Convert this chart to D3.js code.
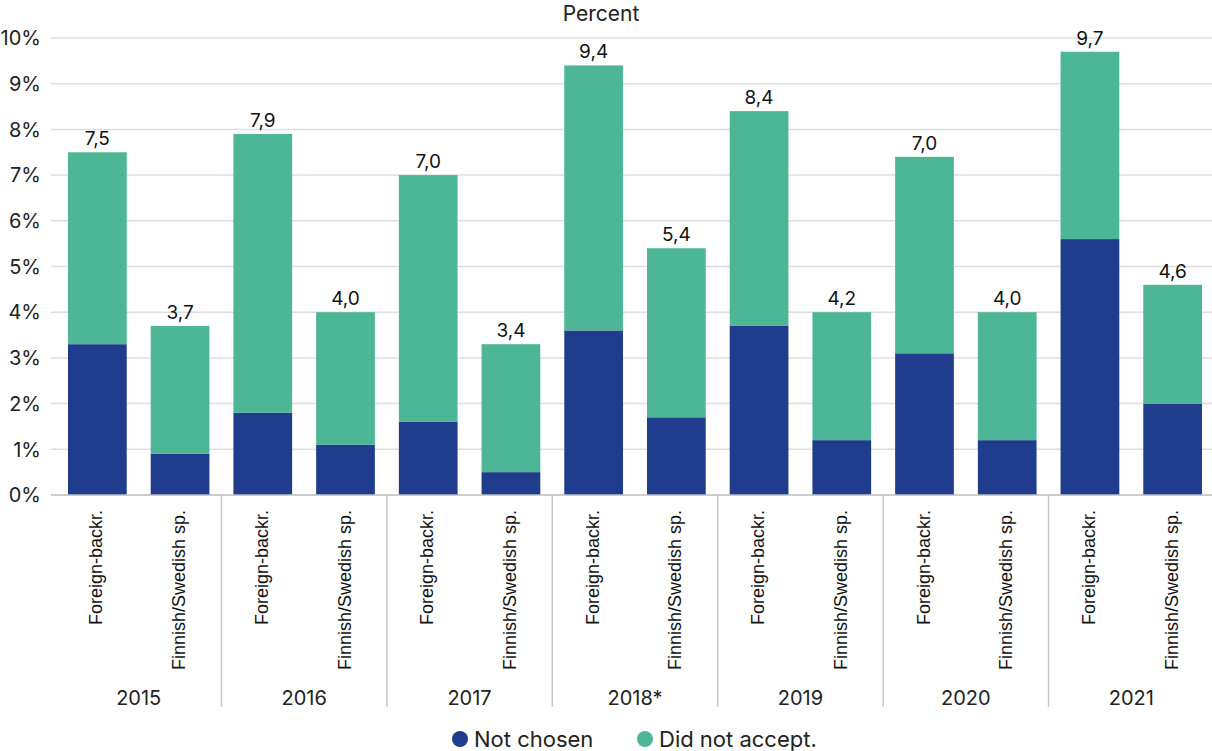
<!DOCTYPE html>
<html><head><meta charset="utf-8">
<script src="https://cdn.jsdelivr.net/npm/d3@7"></script>
<style>body{margin:0;background:#fff}svg{display:block}</style>
</head><body>
<svg id="c" width="1212" height="751"></svg>
<script>
const years = ["2015","2016","2017","2018*","2019","2020","2021"];
const groups = ["Foreign-backr.","Finnish/Swedish sp."];
// Not chosen (dark) per bar, ordered year by year: foreign, finnish
const notChosen = [3.3,0.9, 1.8,1.1, 1.6,0.5, 3.6,1.7, 3.7,1.2, 3.1,1.2, 5.6,2.0];
// Bar total height as drawn
const totals = [7.5,3.7, 7.9,4.0, 7.0,3.3, 9.4,5.4, 8.4,4.0, 7.4,4.0, 9.7,4.6];
// Printed labels above bars
const valueLabels = ["7,5","3,7","7,9","4,0","7,0","3,4","9,4","5,4","8,4","4,2","7,0","4,0","9,7","4,6"];
const yTicks = [0,1,2,3,4,5,6,7,8,9,10];
const seriesNames = ["Not chosen","Did not accept."];
const colors = ["#203C8C","#4DB696"];

const bars = [];
years.forEach((y,i)=>groups.forEach((g,j)=>{
  const k=i*2+j;
  bars.push({key:y+"|"+g, year:y, group:g, nc:notChosen[k], dna:+(totals[k]-notChosen[k]).toFixed(2), label:valueLabels[k]});
}));

const F = "Inter, Roboto, sans-serif";
const svg = d3.select("#c");
const y = d3.scaleLinear().domain([0,10]).range([495,38]);
const x = d3.scaleBand().domain(bars.map(d=>d.key)).range([56,1214]).paddingInner(0.29).paddingOuter(0.145);
const yearScale = d3.scaleBand().domain(years).range([56,1214]);

// gridlines
svg.append("g").selectAll("line").data(yTicks.filter(d=>d>0)).join("line")
  .attr("x1",51).attr("x2",1212).attr("y1",d=>y(d)).attr("y2",d=>y(d))
  .attr("stroke","#dedede").attr("stroke-width",1.5);

// y tick labels
svg.append("g").selectAll("text").data(yTicks).join("text")
  .attr("x",41).attr("y",d=>y(d)).attr("dy","0.36em").attr("text-anchor","end")
  .attr("font-family",F).attr("font-size",20).attr("fill","#222")
  .text(d=>d+"%");

// stacked bars
const stack = d3.stack().keys(["nc","dna"])(bars);
svg.append("g").selectAll("g").data(stack).join("g").attr("fill",(d,i)=>colors[i])
  .selectAll("rect").data(d=>d).join("rect")
  .attr("x",d=>x(d.data.key)).attr("width",x.bandwidth())
  .attr("y",d=>y(d[1])).attr("height",d=>y(d[0])-y(d[1]));

// baseline
svg.append("line").attr("x1",51).attr("x2",1212).attr("y1",y(0)).attr("y2",y(0))
  .attr("stroke","#bdbdbd").attr("stroke-width",1.5);

// group separators
svg.append("g").selectAll("line").data(years.slice(1)).join("line")
  .attr("x1",d=>yearScale(d)).attr("x2",d=>yearScale(d)).attr("y1",y(0)).attr("y2",707)
  .attr("stroke","#c8c8c8").attr("stroke-width",1.5);

// value labels
svg.append("g").selectAll("text").data(bars).join("text")
  .attr("x",d=>x(d.key)+x.bandwidth()/2).attr("y",d=>y(d.nc+d.dna)-7)
  .attr("text-anchor","middle").attr("font-family",F).attr("font-size",19).attr("fill","#111")
  .text(d=>d.label);

// category labels (rotated)
svg.append("g").selectAll("text").data(bars).join("text")
  .attr("transform",d=>`translate(${x(d.key)+x.bandwidth()/2+5},510) rotate(-90)`)
  .attr("text-anchor","end").attr("font-family","'Liberation Sans', Arial, sans-serif").attr("font-size",18).attr("fill","#111")
  .text(d=>d.group);

// year labels
svg.append("g").selectAll("text").data(years).join("text")
  .attr("x",d=>yearScale(d)+yearScale.bandwidth()/2).attr("y",705)
  .attr("text-anchor","middle").attr("font-family",F).attr("font-size",20).attr("fill","#222")
  .text(d=>d);

// title
svg.append("text").attr("x",601).attr("y",21).attr("text-anchor","middle")
  .attr("font-family",F).attr("font-size",21).attr("fill","#222").text("Percent");

// legend
const legX = [460,645];
const lg = svg.append("g").selectAll("g").data(seriesNames).join("g")
  .attr("transform",(d,i)=>`translate(${legX[i]},739)`);
lg.append("circle").attr("r",8).attr("fill",(d,i)=>colors[i]);
lg.append("text").attr("x",14).attr("dy","0.36em").attr("font-family",F)
  .attr("font-size",22).attr("fill","#222").text(d=>d);
</script>
</body></html>
